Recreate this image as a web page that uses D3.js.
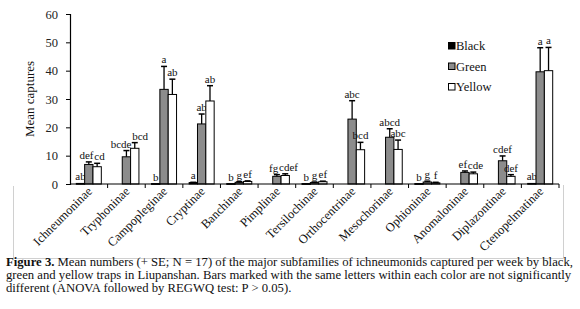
<!DOCTYPE html>
<html><head><meta charset="utf-8">
<script src="https://cdn.jsdelivr.net/npm/d3@7"></script>
<style>body{margin:0;background:#fff;} svg{display:block;font-family:"Liberation Serif","Times New Roman",serif;}</style>
</head><body>
<svg id="c" width="580" height="309"></svg>
<script>
const categories = ["Ichneumoninae","Tryphoninae","Campopleginae","Cryptinae","Banchinae","Pimplinae","Tersilochinae","Orthocentrinae","Mesochorinae","Ophioninae","Anomaloninae","Diplazontinae","Ctenopelmatinae"];
const seriesNames = ["Black","Green","Yellow"];
const blackMean  = [0.2, 0,   0.15, 0.5, 0.15, 0,   0.15, 0,    0,    0.15, 0,   0,   0.2];
const blackSE    = [0,   0,   0,    0.1, 0,    0,   0,    0,    0,    0,    0,   0,   0];
const greenMean  = [6.9, 9.6, 33.4, 21.2, 0.6, 2.7, 0.5, 22.9, 16.5, 0.7, 4.1, 8.2, 39.6];
const greenSE    = [0.9, 2.2, 8.1,  3.5, 0.2, 0.6, 0.2, 6.5,  3.0,  0.3, 0.5, 1.7, 8.5];
const yellowMean = [6.1, 12.6, 31.6, 29.3, 0.9, 3.0, 0.8, 12.1, 12.2, 0.4, 3.6, 2.7, 40.0];
const yellowSE   = [1.2, 2.0, 5.4,  5.4, 0.2, 0.6, 0.2, 2.6,  3.3,  0.2, 0.6, 0.6, 8.2];
const blackLetters  = ["ab","","b","a","b","","b","","","b","","","ab"];
const greenLetters  = ["def","bcde","a","ab","g","fg","g","abc","abcd","g","ef","cdef","a"];
const yellowLetters = ["cd","bcd","ab","ab","ef","cdef","ef","bcd","abc","f","cde","def","a"];
const yTicks = [0,10,20,30,40,50,60];
const yTitle = "Mean captures";
const captionBold = "Figure 3.";
const captionLines = [
  " Mean numbers (+ SE; N = 17) of the major subfamilies of ichneumonids captured per week by black,",
  "green and yellow traps in Liupanshan. Bars marked with the same letters within each color are not significantly",
  "different (ANOVA followed by REGWQ test: P > 0.05)."
];

const svg = d3.select("#c");
const mLeft = 70, mRight = 559, mTop = 14, mBottom = 184;
const x = d3.scaleBand().domain(categories).range([mLeft, mRight]).paddingInner(0).paddingOuter(0);
const inner = d3.scaleBand().domain(seriesNames).range([6.3, x.bandwidth() - 6.3]).padding(0);
const y = d3.scaleLinear().domain([0, 60]).range([mBottom, mTop]);
const fills = {Black:"#000000", Green:"#8c8c8c", Yellow:"#ffffff"};

// light frame
svg.append("path").attr("d", `M13.5,186 V258.5 H563.5 V185`).attr("fill","none").attr("stroke","#d0d0d0").attr("stroke-width",1);

const series = [
  {name:"Black", mean:blackMean, se:blackSE, letters:blackLetters},
  {name:"Green", mean:greenMean, se:greenSE, letters:greenLetters},
  {name:"Yellow", mean:yellowMean, se:yellowSE, letters:yellowLetters}
];

const labelNodes = categories.map(() => []);
series.forEach(s => {
  const g = svg.append("g");
  categories.forEach((c, i) => {
    const bx = x(c) + inner(s.name);
    const w = inner.bandwidth();
    const v = s.mean[i];
    if (v > 0) {
      g.append("rect").attr("x", bx).attr("y", y(v)).attr("width", w).attr("height", Math.max(0.8, mBottom - y(v)))
        .attr("fill", fills[s.name]).attr("stroke", "#000").attr("stroke-width", 1);
    }
    const cx = bx + w/2;
    const topV = v + s.se[i];
    if (s.se[i] > 0) {
      g.append("line").attr("x1", cx).attr("x2", cx).attr("y1", y(v)).attr("y2", y(topV)).attr("stroke","#000").attr("stroke-width",1.3);
      g.append("line").attr("x1", cx-3).attr("x2", cx+3).attr("y1", y(topV)).attr("y2", y(topV)).attr("stroke","#000").attr("stroke-width",1.5);
    }
    if (s.letters[i]) {
      const t = g.append("text").attr("x", cx).attr("y", y(topV) - 3).attr("text-anchor","middle")
        .attr("font-size", 11).attr("fill","#111").text(s.letters[i]);
      labelNodes[i].push({node: t, cx: cx, y: y(topV) - 3, w: t.node().getComputedTextLength()});
    }
  });
});
// push apart neighbouring letter labels that would collide
labelNodes.forEach(list => {
  for (let iter = 0; iter < 5; iter++) {
    for (let k = 0; k < list.length - 1; k++) {
      const a = list[k], b = list[k+1];
      if (Math.abs(a.y - b.y) < 10) {
        const overlap = (a.cx + a.w/2 + 0.8) - (b.cx - b.w/2);
        if (overlap > 0) { a.cx -= overlap/2; b.cx += overlap/2; }
      }
    }
  }
  list.forEach(l => l.node.attr("x", l.cx));
});

// y axis
const yAxis = d3.axisLeft(y).tickValues(yTicks).tickSize(4).tickPadding(8);
const ya = svg.append("g").attr("transform", `translate(${mLeft},0)`).call(yAxis);
ya.select(".domain").attr("stroke","#000").attr("stroke-width",1.2);
ya.selectAll("text").attr("font-size", 12.5).attr("fill","#222").style("font-family","Liberation Serif");

// x axis
svg.append("line").attr("x1", mLeft).attr("x2", mRight).attr("y1", mBottom).attr("y2", mBottom).attr("stroke","#000").attr("stroke-width",1.2);
categories.forEach(c => {
  const tx = x(c) + x.bandwidth();
  svg.append("line").attr("x1", tx).attr("x2", tx).attr("y1", mBottom).attr("y2", mBottom + 4).attr("stroke","#000").attr("stroke-width",1);
});
svg.append("g").selectAll("text").data(categories).join("text")
  .attr("transform", d => `translate(${x(d) + x.bandwidth()/2 + 4},${mBottom + 8}) rotate(-45)`)
  .attr("text-anchor","end").attr("font-size", 12.5).attr("fill","#111").text(d => d);

// y title
svg.append("text").attr("transform", `translate(34,${(mTop+mBottom)/2}) rotate(-90)`)
  .attr("text-anchor","middle").attr("font-size", 13).attr("fill","#111").text(yTitle);

// legend
const lg = svg.append("g");
seriesNames.forEach((n, i) => {
  const ly = 50 + i * 20.5;
  lg.append("rect").attr("x", 448.5).attr("y", ly - 7.5).attr("width", 6.5).attr("height", 6.5)
    .attr("fill", fills[n]).attr("stroke","#000").attr("stroke-width",1);
  lg.append("text").attr("x", 456).attr("y", ly).attr("font-size", 12.5).attr("fill","#111").text(n);
});

// caption
const cap = svg.append("g").attr("font-size", 12.7).attr("fill","#111");
captionLines.forEach((line, i) => {
  const t = cap.append("text").attr("x", 6).attr("y", 266 + i * 13);
  if (i === 0) t.append("tspan").attr("font-weight","bold").text(captionBold);
  t.append("tspan").text(line);
});
</script>
</body></html>
